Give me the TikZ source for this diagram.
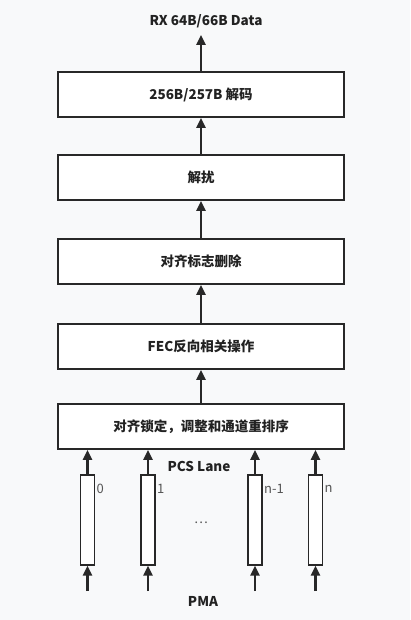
\documentclass[tikz,border=0pt]{standalone}
\usepackage{fontspec}
\setmainfont{Noto Sans CJK SC}
\usepackage{xcolor}
\definecolor{pgbg}{RGB}{248,249,250}
\definecolor{pgline}{RGB}{40,40,40}
\definecolor{pgtext}{RGB}{34,34,34}
\definecolor{pggray}{RGB}{85,85,85}
\usetikzlibrary{arrows.meta,positioning,calc}

\begin{document}
\begin{tikzpicture}[x=1pt,y=-1pt,
  stage/.style={draw=pgline,line width=1.6pt,fill=white,minimum width=286pt,
    minimum height=45pt,inner sep=0pt,font=\fontsize{13.5}{15}\selectfont\bfseries,
    text=pgtext,align=center},
  lane/.style={draw=pgline,line width=1.3pt,fill=white,minimum width=14pt,
    minimum height=90pt,inner sep=0pt},
  lbl/.style={font=\fontsize{13.5}{15}\selectfont\bfseries,text=pgtext,inner sep=2pt},
  idx/.style={font=\fontsize{13}{14}\selectfont,text=pggray,anchor=west,inner sep=0pt},
  arr/.style={-{Triangle[length=10pt,width=9pt]},line width=2.4pt,draw=pgline}
]
  % Background
  \fill[pgbg] (0,0) rectangle (410,620);
  \useasboundingbox (0,0) rectangle (410,620);

  % Stages
  \node[lbl] (out) at (206,21) {RX 64B/66B Data};
  \node[stage] (dec) at (201,94.5) {256B/257B 解码};
  \node[stage] (descr) at (201,177.5) {解扰};
  \node[stage] (amrm) at (201,261.5) {对齐标志删除};
  \node[stage] (fec) at (201,346.5) {FEC反向相关操作};
  \node[stage] (align) at (201,426.5) {对齐锁定，调整和通道重排序};

  \draw[arr,shorten >=5pt] (dec.north) -- (dec.north |- out.south);
  \draw[arr] (descr.north) -- (dec.south);
  \draw[arr] (amrm.north) -- (descr.south);
  \draw[arr] (fec.north) -- (amrm.south);
  \draw[arr] (align.north) -- (fec.south);

  % PCS lanes
  \node[lbl] (pcs) at (199,466) {PCS Lane};
  \node[lane] (l0) at (87.5,520) {};
  \node[lane] (l1) at (148,520) {};
  \node[lane] (ln1) at (255,520) {};
  \node[lane] (ln) at (315.5,520) {};
  \node[idx] (t0) at (96.5,489) {0};
  \node[idx] (t1) at (157,489) {1};
  \node[idx] (tn1) at (264,489) {n-1};
  \node[idx] (tn) at (324.5,489) {n};
  \node[idx,anchor=center] (dots) at (201,523) {\dots};

  \draw[arr] (l0.north) -- (l0.north |- align.south);
  \draw[arr] (l1.north) -- (l1.north |- align.south);
  \draw[arr] (ln1.north) -- (ln1.north |- align.south);
  \draw[arr] (ln.north) -- (ln.north |- align.south);

  % PMA
  \node[lbl] (pma) at (203,601) {PMA};
  \coordinate (p0) at (87.5,591);
  \coordinate (p1) at (148,591);
  \coordinate (pn1) at (255,591);
  \coordinate (pn) at (315.5,591);
  \draw[arr] (p0) -- (l0.south);
  \draw[arr] (p1) -- (l1.south);
  \draw[arr] (pn1) -- (ln1.south);
  \draw[arr] (pn) -- (ln.south);
\end{tikzpicture}
\end{document}
